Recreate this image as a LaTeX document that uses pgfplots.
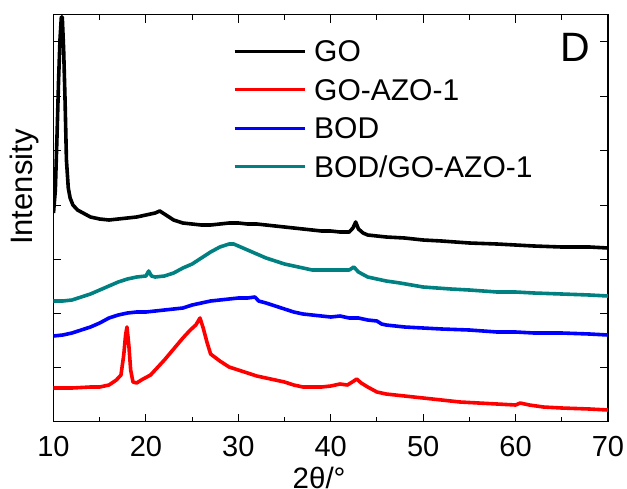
\documentclass[border=0pt]{standalone}
\usepackage{fontspec}
\setmainfont{Liberation Sans}
\usepackage{pgfplots}
\pgfplotsset{compat=1.18}
\definecolor{tealc}{RGB}{0,128,128}
\begin{document}
\begin{tikzpicture}
\begin{axis}[
 scale only axis, width=554.5pt, height=407.2pt,
 xmin=10, xmax=70, ymin=14.5, ymax=421.7, y dir=reverse,
 xtick={10,20,...,70}, minor xtick={15,25,...,65},
 ytick={41,96,150,205,259,313,367}, yticklabels={},
 tick align=inside, major tick length=8pt, minor tick length=5pt,
 tick style={line width=1pt, black},
 axis line style={line width=1.2pt},
 /pgf/number format/assume math mode=true,
 xticklabel style={font=\fontsize{29}{29}\selectfont, inner sep=0pt, anchor=north, yshift=-14pt},
 xlabel={2θ/°}, ylabel={Intensity},
 xlabel style={font=\fontsize{29.5}{29.5}\selectfont, at={(axis description cs:0.479,0)}, anchor=north, yshift=-45pt, inner sep=0pt, text height=21.5pt, text depth=0pt},
 ylabel style={font=\fontsize{31}{31}\selectfont, at={(axis description cs:-0.037,0.576)}, anchor=base, inner sep=0pt},
 legend cell align=left,
 legend style={draw=none, fill=none, inner sep=0pt, column sep=8pt, row sep=17.5pt,
   nodes={inner sep=0pt, text height=21pt, text depth=0pt},
   font=\fontsize{30}{30}\selectfont,
   at={(axis description cs:0.3237,0.936)}, anchor=north west},
 legend image code/.code={\draw[#1, line width=3pt] (0pt,0pt) -- (70pt,0pt);},
 every axis plot/.append style={line width=3.6pt, line join=round, no markers},
]
\addplot[black] coordinates {
(10.0,213) (10.2,190) (10.4,130) (10.55,80) (10.7,40) (10.85,17) (10.95,17) (11.1,50) (11.25,100) (11.4,160) (11.6,188) (11.8,198) (12.1,205) (12.6,210) (13.2,213) (14,217) (15,219) (16,220) (17,219) (18,218) (19,217) (20,215) (21,213) (21.5,211) (22,214) (22.5,217) (23,220) (24,223) (25,224) (26,225) (27,225) (28,224) (29,223) (30,223) (31,224) (32,224) (33,225) (34,226) (35,227) (36,228) (37,229) (38,230) (39,231) (40,231) (41,232) (42,232) (42.4,228) (42.7,222) (43.0,229) (43.5,233) (44,235) (45,236) (46,237) (48,238) (50,240) (52,241) (55,243) (58,244) (60,245) (62,246) (65,247) (68,247) (70,248)
};
\addlegendentry{GO}
\addplot[red] coordinates {
(10,388) (12,388) (14,387) (15,387) (16,385) (16.8,380) (17.3,375) (17.6,355) (17.8,335) (17.95,327) (18.15,345) (18.35,370) (18.6,382) (19,383) (19.5,380) (20.5,375) (21.5,365) (22,360) (23,349) (24,338) (24.8,330) (25.4,325) (25.85,318) (26.2,328) (26.6,342) (27,354) (28,361) (29,367) (30,370) (31,373) (32,376) (33,378) (34,380) (35,382) (36,385) (37,387) (38,387) (39,387) (40,386) (41,384) (41.8,385) (42.5,381) (42.8,379) (43.3,383) (44,387) (45,392) (46,394) (48,396) (50,398) (52,400) (54,402) (56,403) (58,404) (60,405) (60.5,403) (61.5,405) (63,407) (65,408) (68,409) (70,410)
};
\addlegendentry{GO-AZO-1}
\addplot[blue] coordinates {
(10,336) (11,335) (12,333) (13,330) (14,327) (15,323) (16,318) (17,315) (18,313) (19,312) (20,312) (21,311) (22,310) (23,309) (24,308) (25,305) (26,303) (27,301) (28,300) (29,299) (30,298) (31,298) (31.8,297) (32.2,301) (33,303) (34,306) (35,309) (36,312) (37,314) (38,315) (39,316) (40,317) (41,316) (42,318) (43,318) (44,320) (45,321) (45.5,324) (46,325) (48,327) (50,328) (52,329) (55,330) (58,332) (60,332) (62,333) (65,333) (68,334) (70,335)
};
\addlegendentry{BOD}
\addplot[tealc] coordinates {
(10,301) (11,301) (12,300) (13,297) (14,294) (15,290) (16,286) (17,282) (18,279) (19,277) (20,276) (20.3,271) (20.6,276) (21,277) (22,276) (23,273) (24,268) (25,264) (26,258) (27,252) (28,247) (29,244) (29.5,244) (30,246) (31,250) (32,254) (33,258) (34,261) (35,264) (36,266) (37,268) (38,270) (39,270) (40,270) (41,270) (42,270) (42.5,267) (43,272) (44,277) (45,279) (46,281) (47.5,283) (50,287) (53,289) (55,290) (58,292) (60,292) (62,293) (65,294) (68,295) (70,296)
};
\addlegendentry{BOD/GO-AZO-1}
\node[font=\fontsize{41}{41}\selectfont, inner sep=0pt, text height=29.4pt, text depth=0pt, anchor=center] at (axis description cs:0.9405,0.9214) {D};
\end{axis}
\path (current axis.south west) ++(-53.5pt,-66.3pt);
\path (current axis.north east) ++(19pt,14.5pt);
\end{tikzpicture}
\end{document}
